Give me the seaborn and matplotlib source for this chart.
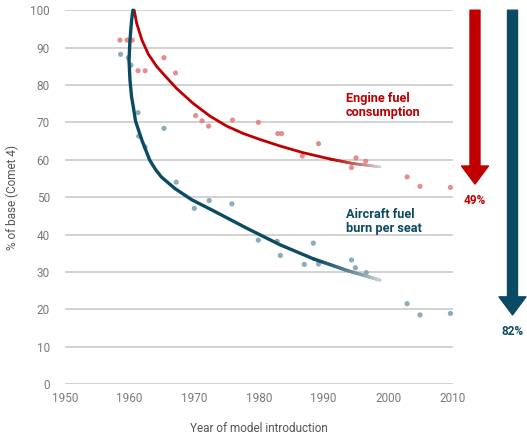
import numpy as np
import pandas as pd
import matplotlib
matplotlib.use("Agg")
import matplotlib.pyplot as plt
from matplotlib.collections import LineCollection
from matplotlib.colors import to_rgb
import seaborn as sns

# === Daten ===
engine_years = [1958.5, 1959.6, 1960.4, 1961.3, 1962.4, 1965.3, 1967.1, 1970.2, 1971.2,
                1972.2, 1975.9, 1979.9, 1982.9, 1983.5, 1986.7, 1989.2, 1994.3, 1995.0,
                1996.5, 2002.9, 2004.9, 2009.6]
engine_values = [92.0, 92.0, 92.0, 83.8, 83.8, 87.3, 83.2, 71.8, 70.4,
                 69.0, 70.6, 70.0, 67.0, 67.0, 61.0, 64.3, 57.9, 60.5,
                 59.6, 55.4, 52.9, 52.6]

seat_years = [1958.6, 1959.8, 1960.2, 1961.3, 1961.4, 1962.4, 1965.3, 1967.2, 1970.0,
              1972.3, 1975.8, 1979.9, 1982.8, 1983.3, 1987.0, 1988.4, 1989.2, 1994.3,
              1994.9, 1996.6, 2002.9, 2004.9, 2009.6]
seat_values = [88.2, 87.3, 85.3, 72.6, 66.3, 63.4, 68.4, 54.0, 47.0,
               49.1, 48.2, 38.5, 38.2, 34.4, 32.0, 37.7, 32.1, 33.2,
               31.1, 29.8, 21.5, 18.5, 18.9]

# Trendlinien
engine_trend_years = [1960.7, 1961.1, 1961.9, 1962.9, 1964.2, 1965.7, 1967.3, 1969.8,
                      1972.4, 1975.0, 1977.6, 1980.2, 1983.2, 1986.8, 1991.0, 1994.5, 1998.7]
engine_trend_values = [100.0, 96.4, 92.0, 88.2, 84.9, 82.0, 79.0, 75.1,
                       71.7, 69.0, 67.0, 65.4, 63.7, 61.9, 60.2, 59.0, 58.1]

seat_trend_years = [1960.5, 1960.3, 1960.05, 1959.9, 1960.05, 1960.3, 1960.6, 1960.9,
                    1961.9, 1963.1, 1964.0, 1964.9, 1967.0, 1969.6, 1972.9, 1978.1,
                    1983.2, 1988.4, 1993.6, 1998.7]
seat_trend_values = [100.0, 97.3, 92.0, 86.6, 81.3, 76.8, 73.8, 70.4,
                     65.2, 59.9, 57.4, 55.4, 52.3, 49.3, 46.4, 41.7,
                     37.3, 33.5, 30.4, 27.8]

reduction_labels = ["49%", "82%"]
arrow_tips = [53.5, 18.5]

RED = "#c00000"
BLUE = "#0b4a63"
RED_PT = "#e07a7a"
BLUE_PT = "#7fa3b2"
GRID = "#cfcfcf"
TICK = "#7a7a7a"


def tail_gradient(ax, xs, ys, color, start_idx, end_color, lw):
    """Zeichnet das Ende einer Linie mit Farbverlauf nach Grau."""
    px, py = [], []
    for i in range(start_idx, len(xs) - 1):
        t = np.linspace(0, 1, 15, endpoint=False)
        px.extend(xs[i] + (xs[i + 1] - xs[i]) * t)
        py.extend(ys[i] + (ys[i + 1] - ys[i]) * t)
    px.append(xs[-1])
    py.append(ys[-1])
    pts = np.column_stack([px, py]).reshape(-1, 1, 2)
    segs = np.concatenate([pts[:-1], pts[1:]], axis=1)
    c0, c1 = np.array(to_rgb(color)), np.array(to_rgb(end_color))
    f = np.linspace(0, 1, len(segs))[:, None] ** 1.3
    cols = c0 * (1 - f) + c1 * f
    lc = LineCollection(segs, colors=cols, linewidths=lw, capstyle="round", zorder=4)
    ax.add_collection(lc)


def main():
    sns.set_theme(style="white")
    plt.rcParams["font.family"] = ["Roboto", "DejaVu Sans"]

    fig = plt.figure(figsize=(5.27, 4.43), dpi=100)
    ax = fig.add_axes([0.1233, 0.133, 0.7363, 0.844])

    df_e = pd.DataFrame({"year": engine_years, "value": engine_values})
    df_s = pd.DataFrame({"year": seat_years, "value": seat_values})
    sns.scatterplot(data=df_e, x="year", y="value", ax=ax, color=RED_PT, s=14,
                    edgecolor="none", alpha=0.85, zorder=3)
    sns.scatterplot(data=df_s, x="year", y="value", ax=ax, color=BLUE_PT, s=14,
                    edgecolor="none", alpha=0.9, zorder=3)

    e_cut = len(engine_trend_years) - 3
    s_cut = len(seat_trend_years) - 3
    sns.lineplot(x=engine_trend_years[:e_cut + 1], y=engine_trend_values[:e_cut + 1], ax=ax,
                 color=RED, lw=2.0, sort=False, estimator=None, zorder=4)
    sns.lineplot(x=seat_trend_years[:s_cut + 1], y=seat_trend_values[:s_cut + 1], ax=ax,
                 color=BLUE, lw=2.4, sort=False, estimator=None, zorder=4)
    tail_gradient(ax, engine_trend_years, engine_trend_values, RED, e_cut, "#cfcfcf", 2.0)
    tail_gradient(ax, seat_trend_years, seat_trend_values, BLUE, s_cut, "#c3cdd1", 2.4)
    for line in ax.lines:
        line.set_clip_on(False)
        line.set_solid_joinstyle("round")
        line.set_solid_capstyle("round")

    ax.set_xlim(1950, 2010)
    ax.set_ylim(0, 100)
    ax.set_xticks(range(1950, 2011, 10))
    ax.set_yticks(range(0, 101, 10))
    ax.yaxis.grid(True, color=GRID, lw=1.3)
    ax.xaxis.grid(False)
    ax.set_axisbelow(True)
    sns.despine(ax=ax, left=True, bottom=True)
    ax.tick_params(axis="both", length=0, colors=TICK, labelsize=8.5)
    ax.tick_params(axis="y", pad=11)
    ax.tick_params(axis="x", pad=6)

    ax.set_xlabel("Year of model introduction", color="#555555", fontsize=8.5, labelpad=12)
    ax.set_ylabel("% of base (Comet 4)", color="#555555", fontsize=8.5, labelpad=8)

    ax.text(1993.4, 78.0, "Engine fuel\nconsumption", color=RED, fontsize=9.2,
            fontweight="bold", va="top", ha="left", linespacing=1.1)
    ax.text(1993.4, 47.0, "Aircraft fuel\nburn per seat", color=BLUE, fontsize=9.2,
            fontweight="bold", va="top", ha="left", linespacing=1.1)

    # Pfeile rechts außerhalb der Achse
    for x, tip, lab, col in zip([2013.4, 2019.2], arrow_tips, reduction_labels, [RED, BLUE]):
        ax.annotate("", xy=(x, tip), xytext=(x, 100),
                    arrowprops=dict(arrowstyle="simple,head_width=0.97,head_length=0.65,tail_width=0.36",
                                    color=col, shrinkA=0, shrinkB=0, mutation_scale=20),
                    annotation_clip=False)
        ax.annotate(lab, xy=(x, tip), xytext=(0, -7), textcoords="offset points",
                    ha="center", va="top", color=col, fontsize=8.5, fontweight="bold",
                    annotation_clip=False)

    fig.savefig("out.png", dpi=100)


if __name__ == "__main__":
    main()
